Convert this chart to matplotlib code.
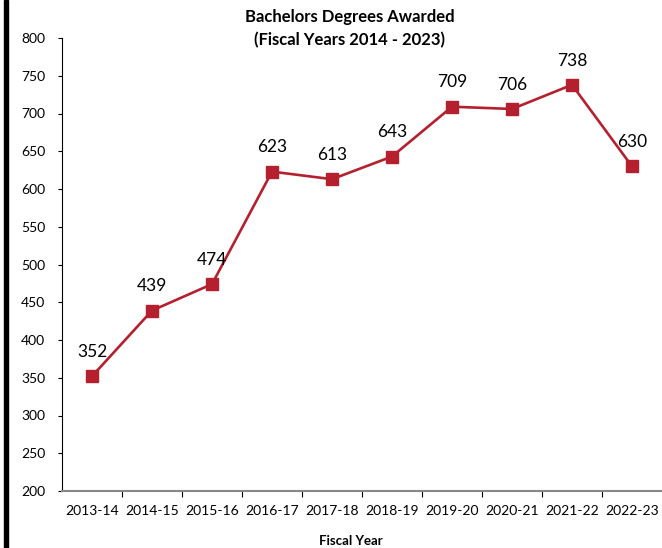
import matplotlib
matplotlib.use('Agg')
import matplotlib.pyplot as plt
from matplotlib.patches import Rectangle

years = ['2013-14', '2014-15', '2015-16', '2016-17', '2017-18',
         '2018-19', '2019-20', '2020-21', '2021-22', '2022-23']
degrees = [352, 439, 474, 623, 613, 643, 709, 706, 738, 630]
yticks = list(range(200, 801, 50))

plt.rcParams['font.family'] = ['Lato', 'DejaVu Sans']
red = '#B5202E'

fig = plt.figure(figsize=(6.62, 5.48), dpi=100)
ax = fig.add_axes([62 / 662, 57 / 548, 600 / 662, 453 / 548])

x = list(range(len(years)))
ax.plot(x, degrees, color=red, lw=1.9, marker='s', markersize=8.5, zorder=3)

for i, v in enumerate(degrees):
    ax.annotate(str(v), (i, v), xytext=(0, 17.5), textcoords='offset points',
                ha='center', va='center', fontsize=12.5)

ax.set_xlim(-0.5, len(years) - 0.5)
ax.set_ylim(200, 800)
ax.set_yticks(yticks)
ax.tick_params(axis='y', labelsize=10, length=3, pad=9, width=0.8)

# ticks at category boundaries, labels at centers
ax.set_xticks([i + 0.5 for i in range(len(years) - 1)])
ax.set_xticklabels([])
ax.set_xticks(x, minor=True)
ax.set_xticklabels(years, minor=True)
ax.tick_params(axis='x', which='major', length=4, width=0.8)
ax.tick_params(axis='x', which='minor', length=0, labelsize=10, pad=10)

for s in ['top', 'right']:
    ax.spines[s].set_visible(False)
ax.spines['left'].set_linewidth(0.8)
ax.spines['bottom'].set_color('#888888')
ax.spines['bottom'].set_linewidth(1.5)

fig.text(350 / 662, 1 - 17 / 548, 'Bachelors Degrees Awarded',
         ha='center', va='center', fontsize=12, fontweight='bold')
fig.text(350 / 662, 1 - 40 / 548, '(Fiscal Years 2014 - 2023)',
         ha='center', va='center', fontsize=12, fontweight='bold')
fig.text(351 / 662, 1 - 541 / 548, 'Fiscal Year',
         ha='center', va='center', fontsize=9.5, fontweight='bold')

fig.patches.append(Rectangle((4 / 662, 0), 3.5 / 662, 1, transform=fig.transFigure,
                             color='black', zorder=10))

fig.savefig('out.png', dpi=100)
